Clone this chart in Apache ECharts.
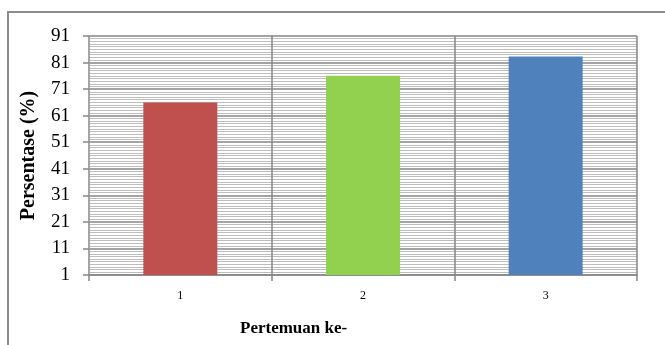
<!DOCTYPE html>
<html>
<head>
<meta charset="utf-8">
<script src="https://cdn.jsdelivr.net/npm/echarts@6/dist/echarts.min.js"></script>
<style>html,body{margin:0;padding:0;background:#fff}#c{width:665px;height:345px}</style>
</head>
<body>
<div id="c"></div>
<script>
const categories = ['1', '2', '3'];
const values = [66, 76, 83.3];
const barColors = ['#C0504D', '#92D050', '#4F81BD'];
const yMin = 1, yMax = 91, yStep = 10;

const chart = echarts.init(document.getElementById('c'), null, {renderer: 'canvas'});
const FONT = '"Liberation Serif", "Times New Roman", serif';
chart.setOption({
  animation: false,
  backgroundColor: '#fff',
  grid: {left: 89, right: 28, top: 36, bottom: 70},
  graphic: [
    {type: 'rect', shape: {x: 8, y: 12, width: 720, height: 400}, style: {fill: 'none', stroke: '#8c8c8c', lineWidth: 2}, silent: true, z: -10},
    {type: 'text', left: 240, top: 320, style: {text: 'Pertemuan ke-', font: 'bold 17px ' + FONT, fill: '#000'}}
  ],
  xAxis: {
    type: 'category',
    data: categories,
    boundaryGap: true,
    axisLine: {show: true, lineStyle: {color: '#868686', width: 1.5}},
    axisTick: {show: true, length: 6, lineStyle: {color: '#868686', width: 1.5}},
    axisLabel: {fontFamily: FONT, fontSize: 12, color: '#000', margin: 15},
    splitLine: {show: true, lineStyle: {color: '#868686', width: 1.5}}
  },
  yAxis: {
    type: 'value',
    min: yMin, max: yMax, interval: yStep,
    name: 'Persentase (%)',
    nameLocation: 'middle',
    nameGap: 50,
    nameTextStyle: {fontFamily: FONT, fontSize: 20, fontWeight: 'bold', color: '#000'},
    axisLine: {show: true, lineStyle: {color: '#a6a6a6', width: 1.5}},
    axisTick: {show: true, length: 6, lineStyle: {color: '#868686', width: 1.5}},
    axisLabel: {fontFamily: FONT, fontSize: 19, color: '#000', margin: 19},
    splitLine: {show: true, lineStyle: {color: '#868686', width: 1.5}},
    minorTick: {show: false, splitNumber: 10},
    minorSplitLine: {show: true, lineStyle: {color: '#bdbdbd', width: 1}}
  },
  series: [{
    type: 'bar',
    barWidth: '40.5%',
    data: values.map((v, i) => ({value: v, itemStyle: {color: barColors[i]}})),
    z: 5
  }]
});
</script>
</body>
</html>
